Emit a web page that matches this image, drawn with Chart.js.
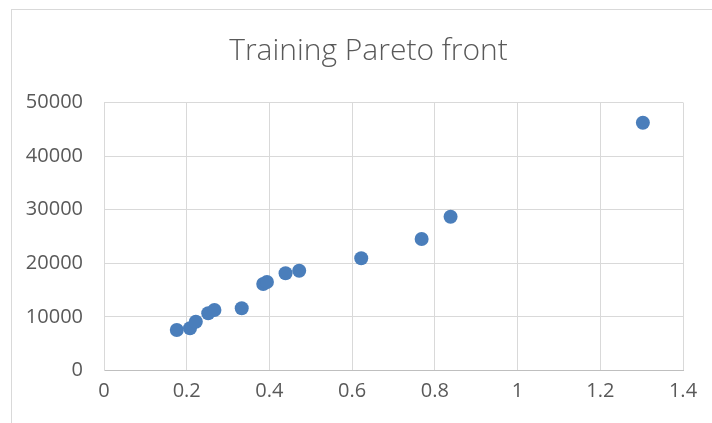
<!DOCTYPE html>
<html>
<head>
<meta charset="utf-8">
<script src="https://cdn.jsdelivr.net/npm/chart.js@4/dist/chart.umd.min.js"></script>
<style>
  html, body { margin: 0; padding: 0; background: #fff; }
  #wrap { position: relative; width: 712px; height: 423px; overflow: hidden; }
  #frame { position: absolute; left: 11px; top: 9px; width: 800px; height: 500px; border: 1px solid #d9d9d9; box-sizing: border-box; }
  canvas { position: absolute; left: 0; top: 0; }
</style>
</head>
<body>
<div id="wrap">
  <div id="frame"></div>
  <canvas id="paretoChart" width="712" height="423"></canvas>
</div>
<script>
// Training Pareto front
const xValues = [0.176, 0.208, 0.222, 0.252, 0.267, 0.333, 0.385, 0.394, 0.439, 0.472, 0.622, 0.768, 0.838, 1.303];
const yValues = [7560, 7870, 9100, 10670, 11290, 11600, 16140, 16510, 18130, 18620, 20930, 24530, 28690, 46230];
const xTicks = [0, 0.2, 0.4, 0.6, 0.8, 1, 1.2, 1.4];
const yTicks = [0, 10000, 20000, 30000, 40000, 50000];

const textColor = '#595959';
const gridColor = '#d9d9d9';
const axisColor = '#bfbfbf';

const points = xValues.map((x, i) => ({ x: x, y: yValues[i] }));

// the original title is centred on the whole frame, not on the plot
const shiftTitle = {
    id: 'shiftTitle',
    afterLayout(chart) {
        if (chart.titleBlock) chart.titleBlock.left += 54;
    }
};

new Chart(document.getElementById('paretoChart').getContext('2d'), {
    type: 'scatter',
    data: {
        datasets: [{
            label: 'Training',
            data: points,
            backgroundColor: '#4a7ebb',
            borderColor: '#4a7ebb',
            borderWidth: 0,
            pointRadius: 7,
            pointHoverRadius: 7
        }]
    },
    options: {
        responsive: false,
        animation: false,
        layout: { padding: { left: 0, top: 33, right: 29, bottom: 0 } },
        plugins: {
            legend: { display: false },
            tooltip: { enabled: false },
            title: {
                display: true,
                text: 'Training Pareto front',
                color: textColor,
                font: { family: 'Open Sans', size: 30, weight: '300' },
                padding: { top: 0, bottom: 33.5 }
            }
        },
        scales: {
            x: {
                type: 'linear',
                min: 0,
                max: 1.4,
                afterBuildTicks: (scale) => { scale.ticks = xTicks.map(v => ({ value: v })); },
                afterFit: (scale) => { scale.height = 52.5; },
                grid: { color: gridColor, drawTicks: false },
                border: { color: axisColor },
                ticks: {
                    color: textColor,
                    padding: 9,
                    font: { family: 'Open Sans', size: 20 },
                    callback: (v) => String(Math.round(v * 10) / 10)
                }
            },
            y: {
                type: 'linear',
                min: 0,
                max: 50000,
                afterBuildTicks: (scale) => { scale.ticks = yTicks.map(v => ({ value: v })); },
                afterFit: (scale) => { scale.width = 104; },
                grid: { color: gridColor, drawTicks: false },
                border: { color: gridColor },
                ticks: {
                    color: textColor,
                    padding: 21,
                    font: { family: 'Open Sans', size: 20 },
                    callback: (v) => String(v)
                }
            }
        }
    },
    plugins: [shiftTitle]
});
</script>
</body>
</html>
